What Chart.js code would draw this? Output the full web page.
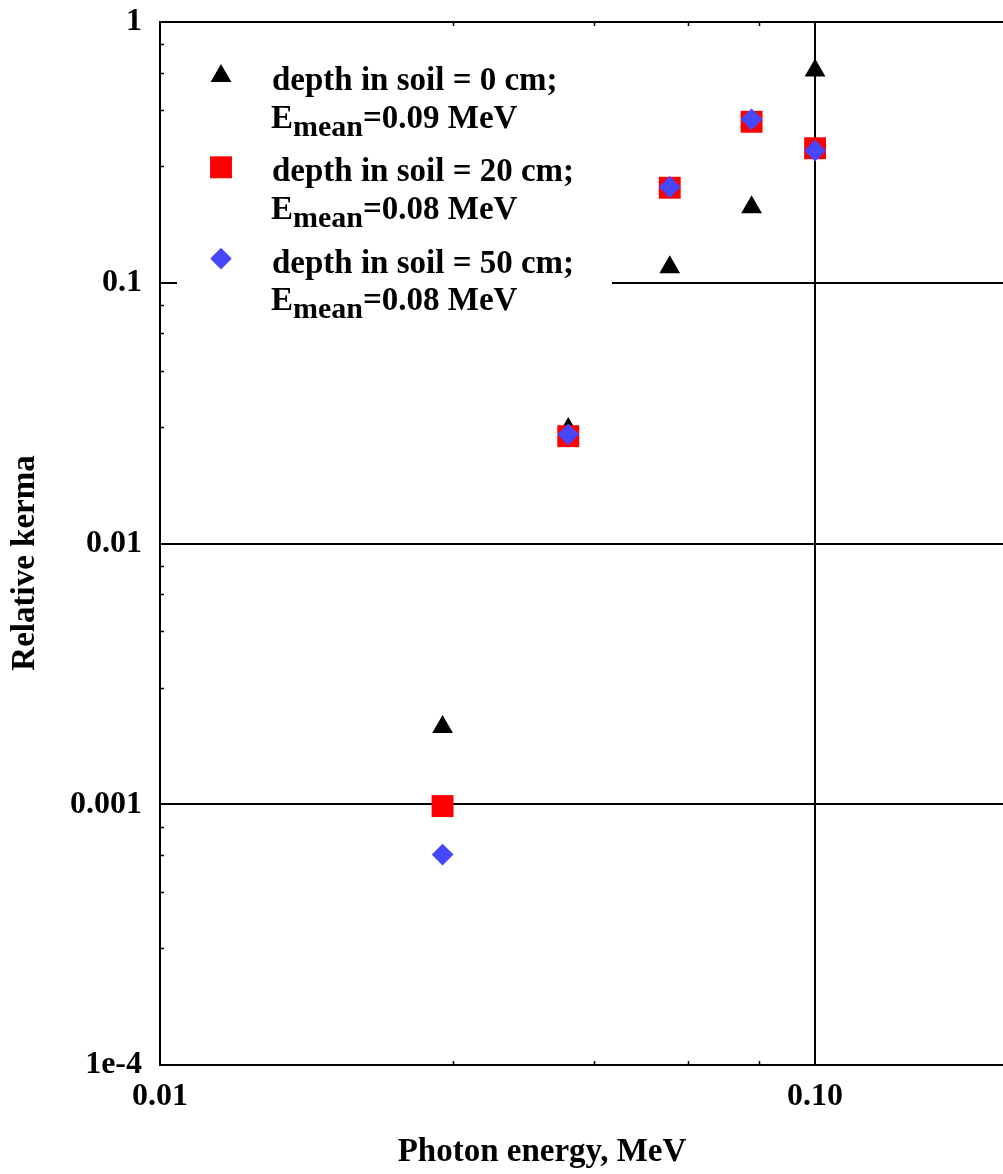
<!DOCTYPE html>
<html>
<head>
<meta charset="utf-8">
<title>Relative kerma vs photon energy</title>
<script src="https://cdn.jsdelivr.net/npm/chart.js@4.4.1/dist/chart.umd.min.js"></script>
<style>
  html, body { margin: 0; padding: 0; background: #fff; overflow: hidden; }
  #chart { display: block; }
</style>
</head>
<body>
<canvas id="chart" width="1003" height="1174"></canvas>
<script>
// photon energies, MeV
const energies = [0.027, 0.042, 0.06, 0.08, 0.1];

// relative kerma for each soil depth
const kerma0cm  = [0.00198, 0.0275, 0.1147, 0.1948, 0.651];
const kerma20cm = [0.000984, 0.0258, 0.2314, 0.4144, 0.328];
const kerma50cm = [0.000641, 0.0262, 0.233, 0.4235, 0.321];

const depths = ['0 cm', '20 cm', '50 cm'];
const meanEnergies = ['0.09', '0.08', '0.08'];

// axis ticks: labelled decades plus small marks at 2.8, 4.6, 6.4, 8.2
const yDecades = [1e-4, 1e-3, 1e-2, 1e-1, 1];
const yDecadeLabels = ['1e-4', '0.001', '0.01', '0.1', '1'];
const xDecades = [0.01, 0.1];
const xDecadeLabels = ['0.01', '0.10'];
const minorSteps = [2.8, 4.6, 6.4, 8.2];

const SERIF = '"Liberation Serif", "Times New Roman", serif';

const series = [
  { values: kerma0cm,  color: '#000000', style: 'triangle', radius: 12,   border: 0, order: 3 },
  { values: kerma20cm, color: '#ff0000', style: 'rect',     radius: 15.5, border: 0, order: 2 },
  { values: kerma50cm, color: '#4747ff', style: 'rectRot',  radius: 9.5,  border: 2, order: 1 }
];

function setMarkerStyle(ctx, s) {
  ctx.fillStyle = s.color;
  ctx.strokeStyle = s.color;
  ctx.lineWidth = s.border;
  ctx.lineJoin = 'round';
}

// white legend panel over the grid, with subscripted E_mean lines
const legendPanel = {
  id: 'legendPanel',
  beforeDatasetsDraw(chart) {
    const ctx = chart.ctx;
    ctx.save();
    ctx.fillStyle = '#fff';
    ctx.fillRect(177, 40, 435, 285);
    ctx.restore();
  },
  afterDatasetsDraw(chart) {
    const ctx = chart.ctx;
    ctx.save();
    series.forEach((s, i) => {
      const base = 90 + i * 91.3;
      const base2 = base + 37.7;
      setMarkerStyle(ctx, s);
      Chart.helpers.drawPoint(ctx, { pointStyle: s.style, radius: s.radius, rotation: 0, borderWidth: s.border }, 221, base - 14);

      ctx.fillStyle = '#000';
      ctx.textAlign = 'left';
      ctx.textBaseline = 'alphabetic';
      ctx.font = `bold 33px ${SERIF}`;
      ctx.fillText(`depth in soil = ${depths[i]};`, 272, base);
      let x = 271;
      ctx.fillText('E', x, base2);
      x += ctx.measureText('E').width;
      ctx.font = `bold 30px ${SERIF}`;
      ctx.fillText('mean', x, base2 + 8);
      x += ctx.measureText('mean').width;
      ctx.font = `bold 33px ${SERIF}`;
      ctx.fillText(`=${meanEnergies[i]} MeV`, x, base2);
    });
    ctx.restore();
  }
};

// small inward tick marks and the two axis titles
const axisExtras = {
  id: 'axisExtras',
  afterDraw(chart) {
    const { ctx, chartArea: a, scales: { x, y } } = chart;
    ctx.save();
    ctx.strokeStyle = '#000';
    ctx.lineWidth = 1.5;
    ctx.beginPath();
    yDecades.slice(0, -1).forEach(d => {
      minorSteps.forEach(m => {
        const py = Math.round(y.getPixelForValue(d * m)) + 0.5;
        ctx.moveTo(a.left, py);
        ctx.lineTo(a.left + 4, py);
      });
    });
    xDecades.forEach(d => {
      minorSteps.forEach(m => {
        const v = d * m;
        if (v > x.max) return;
        const px = Math.round(x.getPixelForValue(v)) + 0.5;
        ctx.moveTo(px, a.bottom);
        ctx.lineTo(px, a.bottom - 4);
        ctx.moveTo(px, a.top);
        ctx.lineTo(px, a.top + 4);
      });
    });
    ctx.stroke();

    ctx.fillStyle = '#000';
    ctx.font = `bold 33px ${SERIF}`;
    ctx.textAlign = 'center';
    ctx.textBaseline = 'middle';
    ctx.fillText('Photon energy, MeV', 542, 1152);
    ctx.translate(25, 563);
    ctx.rotate(-Math.PI / 2);
    ctx.fillText('Relative kerma', 0, 0);
    ctx.restore();
  }
};

const tickFont = { family: SERIF, size: 32, weight: 'bold' };

new Chart(document.getElementById('chart'), {
  type: 'scatter',
  data: {
    datasets: series.map(s => ({
      data: energies.map((e, i) => ({ x: e, y: s.values[i] })),
      pointStyle: s.style,
      pointRadius: s.radius,
      pointHoverRadius: s.radius,
      backgroundColor: s.color,
      borderColor: s.color,
      pointBorderWidth: s.border,
      order: s.order,
      showLine: false
    }))
  },
  options: {
    responsive: false,
    animation: false,
    events: [],
    layout: { autoPadding: false, padding: { top: 22, left: 0, right: 0, bottom: 0 } },
    plugins: { legend: { display: false }, tooltip: { enabled: false } },
    scales: {
      x: {
        type: 'logarithmic',
        min: 0.01,
        max: 0.1936,
        afterBuildTicks: sc => { sc.ticks = xDecades.map(v => ({ value: v })); },
        afterFit: sc => { sc.height = 109; sc.paddingLeft = 0; sc.paddingRight = 0; },
        grid: { color: '#000', lineWidth: 2, drawTicks: false },
        border: { color: '#000', width: 2 },
        ticks: {
          autoSkip: false, maxRotation: 0, padding: 13,
          color: '#000', font: tickFont,
          callback: (v, i) => xDecadeLabels[i]
        }
      },
      y: {
        type: 'logarithmic',
        min: 1e-4,
        max: 1,
        afterBuildTicks: sc => { sc.ticks = yDecades.map(v => ({ value: v })); },
        afterFit: sc => { sc.width = 160; sc.paddingTop = 0; sc.paddingBottom = 0; },
        grid: { color: '#000', lineWidth: 2, drawTicks: false },
        border: { color: '#000', width: 2 },
        ticks: {
          padding: 18,
          color: '#000', font: tickFont,
          callback: (v, i) => yDecadeLabels[i]
        }
      }
    }
  },
  plugins: [legendPanel, axisExtras]
});
</script>
</body>
</html>
